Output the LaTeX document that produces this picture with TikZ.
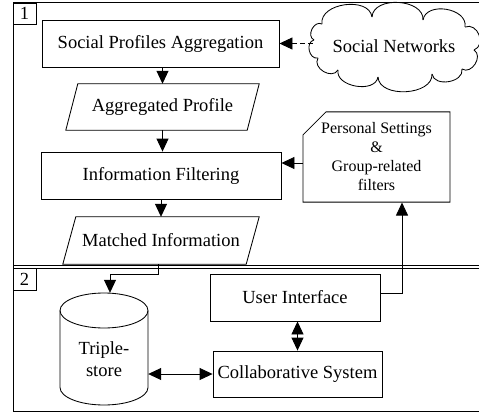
\documentclass[tikz,border=0pt]{standalone}
\usepackage{fontspec}
\setmainfont{Liberation Serif}
\usetikzlibrary{arrows.meta,shapes.misc,calc}
\begin{document}
\begin{tikzpicture}[x=1pt,y=-1pt,
  every node/.style={font=\fontsize{18.5}{22}\selectfont},
  box/.style={draw, line width=0.85pt, inner sep=0pt, align=center},
  plain/.style={inner sep=0pt, align=center},
  arr/.style={line width=0.85pt, -{Triangle[length=13pt,width=12pt]}},
  arrboth/.style={line width=0.85pt, {Triangle[length=13pt,width=12pt]}-{Triangle[length=13pt,width=12pt]}},
  frameline/.style={line width=1pt},
  shapeline/.style={line width=0.85pt}]
\useasboundingbox (0,0) rectangle (479,412);

% frame
\draw[frameline] (479,3) -- (13,3) -- (13,411) -- (479,411);
\draw[frameline] (13,265.5) -- (479,265.5);
\draw[frameline] (13,268.8) -- (479,268.8);

\node[box, minimum width=23, minimum height=21] (l1) at (24.5,13.5) {1};
\node[box, minimum width=23, minimum height=21.5] (l2) at (24.5,279.3) {2};

% section 1
\node[box, minimum width=237, minimum height=47] (spa) at (160.5,43.5) {Social Profiles Aggregation};
\node[plain, minimum width=181, minimum height=46] (ap) at (162.5,107) {Aggregated Profile};
\draw[shapeline] ([xshift=6pt]ap.north west) -- ([xshift=6pt]ap.north east) -- ([xshift=-6pt]ap.south east) -- ([xshift=-6pt]ap.south west) -- cycle;
\node[box, minimum width=240, minimum height=47] (if) at (161,175.5) {Information Filtering};
\node[plain, minimum width=183, minimum height=47] (mi) at (161,240.5) {Matched Information};
\draw[shapeline] ([xshift=6.5pt]mi.north west) -- ([xshift=6.5pt]mi.north east) -- ([xshift=-6.5pt]mi.south east) -- ([xshift=-6.5pt]mi.south west) -- cycle;

% cloud
\node[plain, minimum width=162, minimum height=60] (sn) at (394,46) {Social Networks};
\coordinate (c1) at (322,24);
\coordinate (c2) at (372,17);
\coordinate (c3) at (423,20);
\coordinate (c4) at (465,27);
\coordinate (c5) at (474,50);
\coordinate (c6) at (462,69);
\coordinate (c7) at (432,74);
\coordinate (c8) at (378,77);
\coordinate (c9) at (338,70);
\coordinate (c10) at (318,58);
\coordinate (c11) at (314,40);
\foreach \a/\b/\k in {c1/c2/0.42, c2/c3/0.42, c3/c4/0.45, c4/c5/0.55, c5/c6/0.5, c6/c7/0.45, c7/c8/0.4, c8/c9/0.42, c9/c10/0.5, c10/c11/0.5, c11/c1/0.5}
  \draw[shapeline] (\a) .. controls ($(\a)!\k!90:(\b)$) and ($(\b)!\k!-90:(\a)$) .. (\b);

\node[draw, chamfered rectangle, chamfered rectangle corners=north west,
      chamfered rectangle xsep=12pt, chamfered rectangle ysep=11pt, line width=0.85pt,
      minimum width=147, minimum height=80, inner sep=0pt, align=center,
      font=\fontsize{16}{19}\selectfont] (ps) at (376.5,157) {Personal Settings\\\&\\Group-related\\filters};

% section 2
\node[box, minimum width=170, minimum height=47] (ui) at (295,297.5) {User Interface};
\node[box, minimum width=169, minimum height=46] (cs) at (297.5,374) {Collaborative System};
\node[plain, minimum width=88, minimum height=112] (ts) at (104,349) {};
\node[plain] (tstext) at (104,359) {Triple-\\store};
\draw[shapeline] (104,310.5) ellipse [x radius=44, y radius=17.5];
\draw[shapeline] (60,310.5) -- (60,387.5) arc[start angle=180, end angle=0, x radius=44, y radius=17.5] -- (148,310.5);

% connectors
\draw[arr] (spa.south -| ap) -- (ap.north);
\draw[arr] (ap.south) -- (ap.south |- if.north);
\draw[arr] (if.south) -- (mi.north);
\draw[arr, dash pattern=on 5pt off 3pt] (sn.west |- spa.east) -- (spa.east);
\draw[arr] ([yshift=-6pt]ps.west) -- ([yshift=-6pt]ps.west -| if.east);
\draw[arr] ([yshift=4pt]ui.east) -| ([xshift=25.5pt]ps.south);
\draw[arr] ([xshift=-3pt]mi.south) -- ++(0,10) -| ([xshift=6pt]ts.north);
\draw[arrboth] (ui.south -| cs) -- (cs.north);
\draw[arrboth] (ts.east |- cs.west) -- (cs.west);
\end{tikzpicture}
\end{document}
